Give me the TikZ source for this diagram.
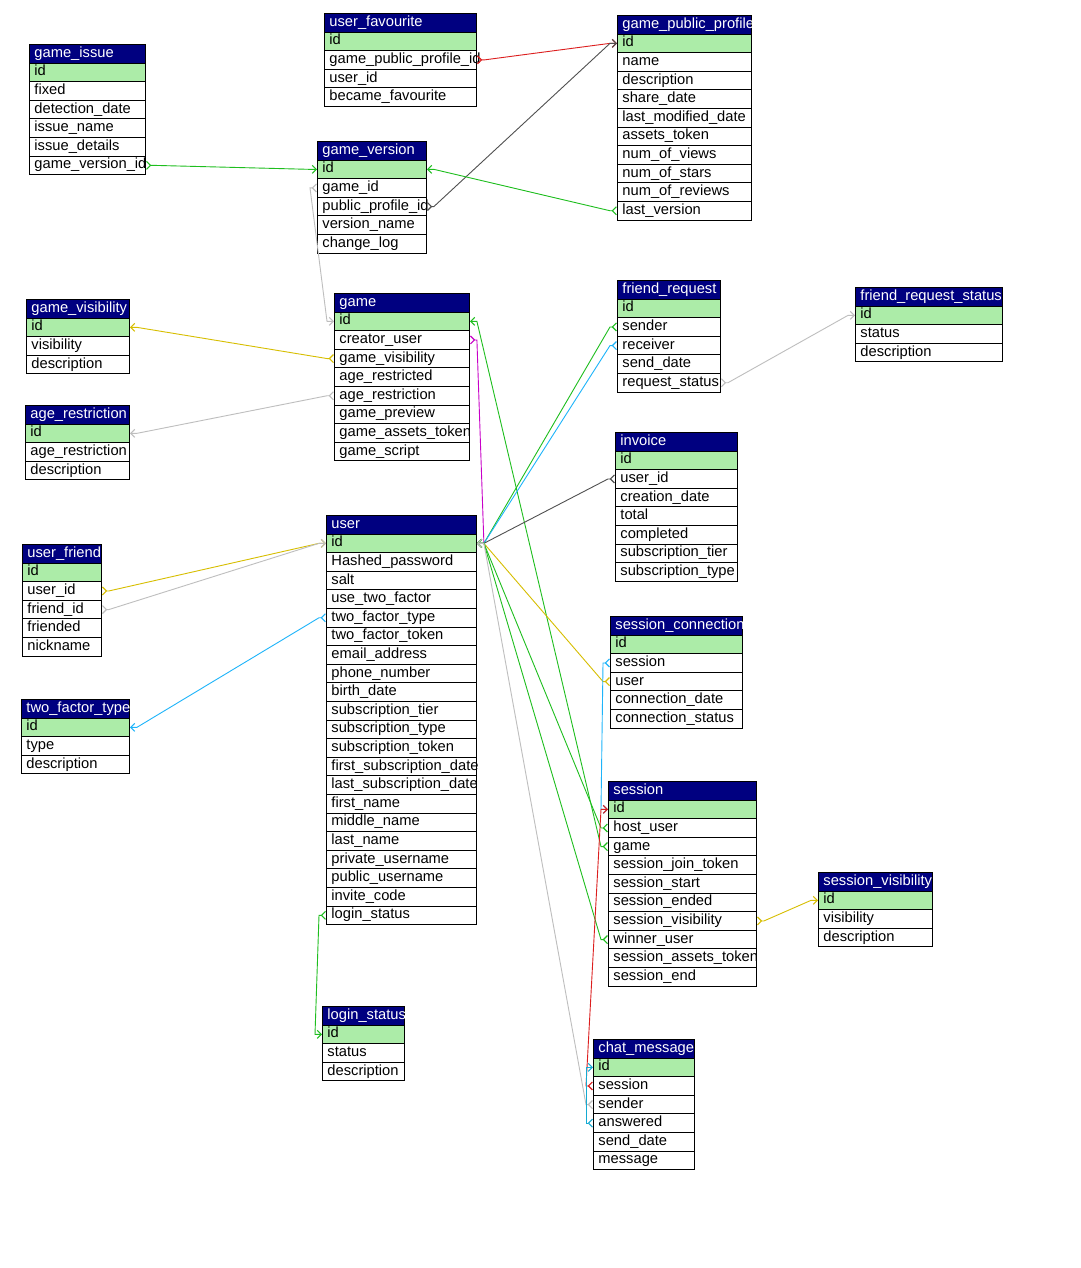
\documentclass[tikz,border=0pt]{standalone}
\usepackage{fontspec}
\setmainfont{Liberation Sans}
\usetikzlibrary{arrows.meta,calc}
\definecolor{hdrblue}{RGB}{0,0,128}
\definecolor{pkgreen}{RGB}{172,236,168}
\definecolor{cgreen}{RGB}{30,190,30}
\definecolor{cred}{RGB}{220,30,30}
\definecolor{cdark}{RGB}{80,80,80}
\definecolor{clight}{RGB}{190,190,190}
\definecolor{cyellow}{RGB}{215,190,0}
\definecolor{cblue}{RGB}{30,180,250}
\definecolor{cmag}{RGB}{200,0,200}
\definecolor{ccyan}{RGB}{20,170,210}
\def\erdxeast{7}
\def\erdxwest{-7}
\newcommand{\erTable}[6]{%
  \pgfmathsetmacro\erTW{#4-10}%
  \node[hdr, anchor=north west] (#1-0) at (#2,#3) {\makebox[\erTW pt][l]{#5}};
  \foreach \t [count=\i] in {#6} {
    \ifnum\i=1 \def\rowfill{pkgreen}\else\def\rowfill{white}\fi
    \node[fld, fill=\rowfill, anchor=north west] (#1-\i) at (#2,{#3+\i*18.6}) {\makebox[\erTW pt][l]{\t}};
  }
}
\newcommand{\fk}[5]{%
  \edef\dxa{\csname erdx#3\endcsname}%
  \edef\dxb{\csname erdx#5\endcsname}%
  \draw[conn, #1] (#2.#3) -- ++(\dxa,0) -- ($(#4.#5)+(\dxb,0)$) -- (#4.#5);
}
\begin{document}
\begin{tikzpicture}[x=1pt,y=-1pt,
  font=\fontsize{14.7}{17}\selectfont,
  hdr/.style={draw=black, line width=0.9pt, fill=hdrblue, text=white, inner xsep=5pt, inner ysep=0pt, minimum height=18.6pt, text height=11pt, text depth=4pt},
  fld/.style={draw=black, line width=0.9pt, text=black, inner xsep=5pt, inner ysep=0pt, minimum height=18.6pt, text height=11pt, text depth=4pt},
  conn/.style={line width=0.9pt, {Straight Barb[reversed,length=4pt,width=8pt,line width=1.1pt]}-{Straight Barb[length=4pt,width=8pt,line width=1.1pt]}}
]
\useasboundingbox[fill=white] (0,0) rectangle (1080,1268);

\erTable{gi}{29}{44}{116}{game\_issue}{id,fixed,detection\_date,issue\_name,issue\_details,game\_version\_id}
\erTable{uf}{324}{13}{152}{user\_favourite}{id,game\_public\_profile\_id,user\_id,became\_favourite}
\erTable{gpp}{617}{15}{134}{game\_public\_profile}{id,name,description,share\_date,last\_modified\_date,assets\_token,num\_of\_views,num\_of\_stars,num\_of\_reviews,last\_version}
\erTable{gv}{317}{141}{109}{game\_version}{id,game\_id,public\_profile\_id,version\_name,change\_log}
\erTable{gvis}{26}{299}{103}{game\_visibility}{id,visibility,description}
\erTable{ar}{25}{405}{104}{age\_restriction}{id,age\_restriction,description}
\erTable{g}{334}{293}{135}{game}{id,creator\_user,game\_visibility,age\_restricted,age\_restriction,game\_preview,game\_assets\_token,game\_script}
\erTable{fr}{617}{280}{103}{friend\_request}{id,sender,receiver,send\_date,request\_status}
\erTable{frs}{855}{287}{147}{friend\_request\_status}{id,status,description}
\erTable{inv}{615}{432}{122}{invoice}{id,user\_id,creation\_date,total,completed,subscription\_tier,subscription\_type}
\erTable{ufr}{22}{544}{79}{user\_friend}{id,user\_id,friend\_id,friended,nickname}
\erTable{u}{326}{515}{150}{user}{id,Hashed\_password,salt,use\_two\_factor,two\_factor\_type,two\_factor\_token,email\_address,phone\_number,birth\_date,subscription\_tier,subscription\_type,subscription\_token,first\_subscription\_date,last\_subscription\_date,first\_name,middle\_name,last\_name,private\_username,public\_username,invite\_code,login\_status}
\erTable{tft}{21}{699}{108}{two\_factor\_type}{id,type,description}
\erTable{sc}{610}{616}{132}{session\_connection}{id,session,user,connection\_date,connection\_status}
\erTable{s}{608}{781}{148}{session}{id,host\_user,game,session\_join\_token,session\_start,session\_ended,session\_visibility,winner\_user,session\_assets\_token,session\_end}
\erTable{sv}{818}{872}{114}{session\_visibility}{id,visibility,description}
\erTable{ls}{322}{1006}{82}{login\_status}{id,status,description}
\erTable{cm}{593}{1039}{101}{chat\_message}{id,session,sender,answered,send\_date,message}

\fk{cgreen}{gi-6}{east}{gv-1}{west}
\fk{cred}{uf-2}{east}{gpp-1}{west}
\fk{cdark}{gv-3}{east}{gpp-1}{west}
\fk{cgreen}{gpp-10}{west}{gv-1}{east}
\fk{clight}{gv-2}{west}{g-1}{west}
\fk{cyellow}{g-3}{west}{gvis-1}{east}
\fk{clight}{g-5}{west}{ar-1}{east}
\fk{cmag}{g-2}{east}{u-1}{east}
\fk{cgreen}{s-3}{west}{g-1}{east}
\fk{cgreen}{fr-2}{west}{u-1}{east}
\fk{cblue}{fr-3}{west}{u-1}{east}
\fk{clight}{fr-5}{east}{frs-1}{west}
\fk{cdark}{inv-2}{west}{u-1}{east}
\fk{cyellow}{sc-3}{west}{u-1}{east}
\fk{cblue}{sc-2}{west}{s-1}{west}
\fk{cgreen}{s-2}{west}{u-1}{east}
\fk{cgreen}{s-8}{west}{u-1}{east}
\fk{cyellow}{s-7}{east}{sv-1}{west}
\fk{cred}{cm-2}{west}{s-1}{west}
\fk{clight}{cm-3}{west}{u-1}{east}
\fk{ccyan}{cm-4}{west}{cm-1}{west}
\fk{cyellow}{ufr-2}{east}{u-1}{west}
\fk{clight}{ufr-3}{east}{u-1}{west}
\fk{cblue}{u-5}{west}{tft-1}{east}
\fk{cgreen}{u-21}{west}{ls-1}{west}
\end{tikzpicture}
\end{document}
